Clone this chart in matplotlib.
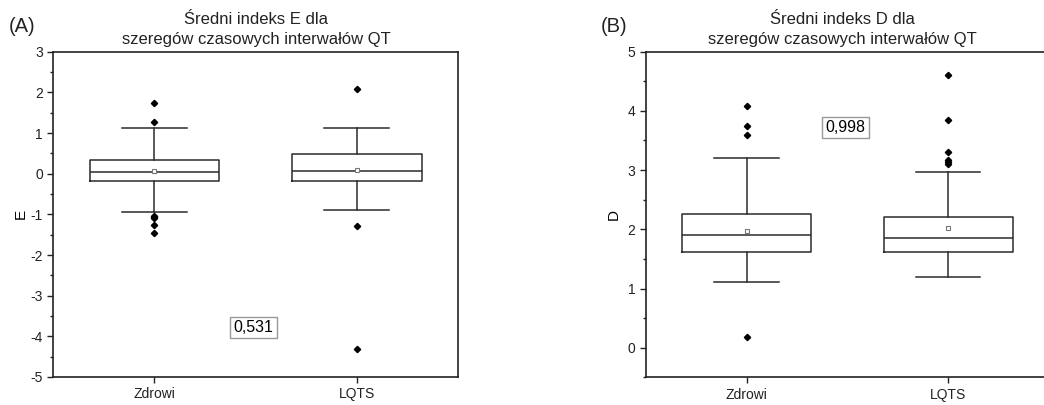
import matplotlib
matplotlib.use("Agg")
import matplotlib.pyplot as plt
from matplotlib.ticker import MultipleLocator

plt.rcParams['font.family'] = ['Liberation Sans', 'DejaVu Sans']
plt.rcParams['axes.unicode_minus'] = False

groups = ["Zdrowi", "LQTS"]

# Panel A: index E
E_q1 = [-0.17, -0.17]
E_med = [0.04, 0.07]
E_q3 = [0.34, 0.49]
E_mean = [0.07, 0.09]
E_whislo = [-0.94, -0.90]
E_whishi = [1.12, 1.13]
E_fliers = [[1.75, 1.27, -1.04, -1.07, -1.09, -1.27, -1.47],
            [2.09, -1.28, -4.31]]
E_p = "0,531"

# Panel B: index D
D_q1 = [1.61, 1.62]
D_med = [1.90, 1.85]
D_q3 = [2.26, 2.20]
D_mean = [1.97, 2.03]
D_whislo = [1.11, 1.20]
D_whishi = [3.20, 2.96]
D_fliers = [[4.08, 3.74, 3.60, 0.18],
            [4.61, 3.85, 3.30, 3.17, 3.14, 3.11]]
D_p = "0,998"

W, H = 1044, 405
fig = plt.figure(figsize=(W / 100, H / 100), dpi=100)

def make_axes(left, right, top, bottom):
    return fig.add_axes([left / W, 1 - bottom / H, (right - left) / W, (bottom - top) / H])

axA = make_axes(53.3, 458, 51.7, 377)
axB = make_axes(645.9, 1049, 51.7, 377.3)

line_col = '#2b2b2b'

def draw(ax, q1, med, q3, mean, wlo, whi, fliers, ylim, ylab, title, ptxt, pxy, label, label_x, title_x, ylab_x):
    stats = []
    for i in range(len(groups)):
        stats.append(dict(q1=q1[i], med=med[i], q3=q3[i], mean=mean[i],
                          whislo=wlo[i], whishi=whi[i], fliers=fliers[i], label=groups[i]))
    ax.bxp(stats, positions=[1, 2], widths=0.64, showmeans=True, showfliers=True,
           boxprops=dict(color=line_col, linewidth=1.1),
           medianprops=dict(color=line_col, linewidth=1.1),
           whiskerprops=dict(color=line_col, linewidth=1.1),
           capprops=dict(color=line_col, linewidth=1.1),
           capwidths=0.32,
           meanprops=dict(marker='s', markerfacecolor='white', markeredgecolor='#777777',
                          markersize=3.5, markeredgewidth=0.8),
           flierprops=dict(marker='D', markerfacecolor='black', markeredgecolor='black',
                           markersize=3.2, linestyle='none'))
    ax.set_xlim(0.5, 2.5)
    ax.set_ylim(*ylim)
    ax.yaxis.set_major_locator(MultipleLocator(1))
    ax.yaxis.set_minor_locator(MultipleLocator(0.5))
    ax.tick_params(axis='y', which='major', direction='out', length=4.5, width=1.0,
                   labelsize=10, pad=3, colors='#222222')
    ax.tick_params(axis='y', which='minor', direction='out', length=2.5, width=1.0, colors='#222222')
    ax.tick_params(axis='x', which='major', direction='out', length=4.5, width=1.0,
                   labelsize=10, pad=3, colors='#222222')
    ax.tick_params(axis='x', which='minor', bottom=False)
    for s in ax.spines.values():
        s.set_linewidth(1.2)
        s.set_color('#222222')
    ax.set_ylabel(ylab, fontsize=11)
    ax.yaxis.set_label_coords((ylab_x - ax.get_position().x0 * W) / (ax.get_position().width * W), 0.5)
    fig.text(title_x / W, 1 - 29.5 / H, title, ha='center', va='center', fontsize=12,
             linespacing=1.45, color='#222222')
    fig.text(label_x / W, 1 - 27 / H, label, ha='left', va='center', fontsize=14.5, color='#222222')
    ax.text(pxy[0], pxy[1], ptxt, ha='center', va='center', fontsize=11.5,
            bbox=dict(boxstyle='square,pad=0.2', facecolor='white', edgecolor='#999999', linewidth=1.0))

draw(axA, E_q1, E_med, E_q3, E_mean, E_whislo, E_whishi, E_fliers, (-5, 3), "E",
     "Średni indeks E dla\nszeregów czasowych interwałów QT", E_p, (1.49, -3.79), "(A)", 9, 256, 28)
draw(axB, D_q1, D_med, D_q3, D_mean, D_whislo, D_whishi, D_fliers, (-0.5, 5), "D",
     "Średni indeks D dla\nszeregów czasowych interwałów QT", D_p, (1.49, 3.72), "(B)", 601, 842, 621)

fig.savefig("out.png", dpi=100)
